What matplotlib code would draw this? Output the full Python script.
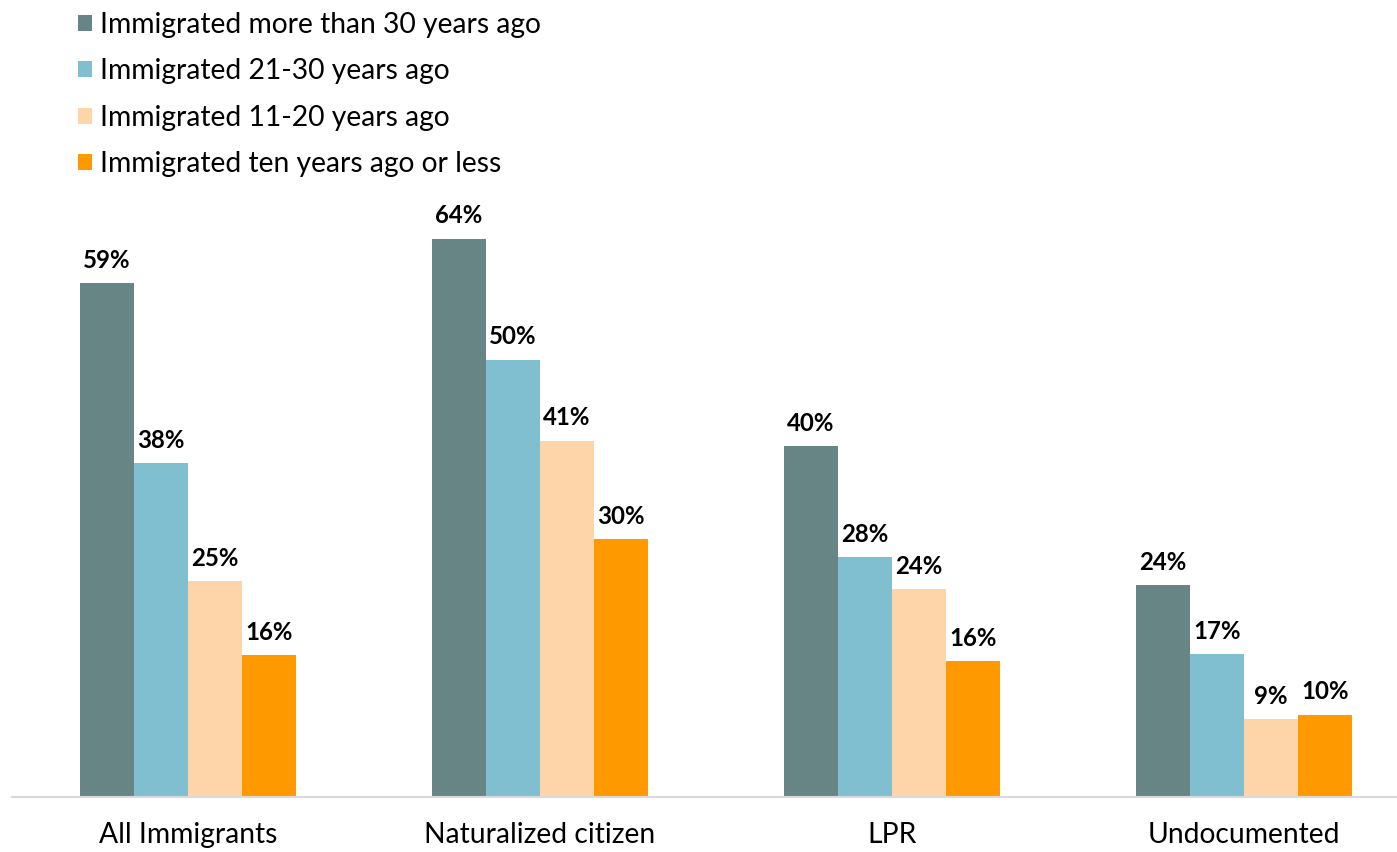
import matplotlib
matplotlib.use("Agg")
import matplotlib.pyplot as plt
from matplotlib.patches import Patch
import numpy as np

categories = ["All Immigrants", "Naturalized citizen", "LPR", "Undocumented"]
series_names = ["Immigrated more than 30 years ago", "Immigrated 21-30 years ago",
                "Immigrated 11-20 years ago", "Immigrated ten years ago or less"]
more_than_30 = [59.0, 64.1, 40.25, 24.3]
yrs_21_30 = [38.3, 50.2, 27.5, 16.4]
yrs_11_20 = [24.75, 40.9, 23.9, 8.9]
ten_or_less = [16.3, 29.6, 15.6, 9.45]
labels_more_than_30 = ["59%", "64%", "40%", "24%"]
labels_21_30 = ["38%", "50%", "28%", "17%"]
labels_11_20 = ["25%", "41%", "24%", "9%"]
labels_ten_or_less = ["16%", "30%", "16%", "10%"]
colors = ["#668584", "#7FBFCF", "#FDD5A9", "#FF9900"]

plt.rcParams['font.family'] = ['Lato', 'DejaVu Sans']

W, H = 1397, 852
fig = plt.figure(figsize=(W/100, H/100), dpi=100)
ax = fig.add_axes([12/W, 55/H, (W-12)/W, 607/H])

series = [more_than_30, yrs_21_30, yrs_11_20, ten_or_less]
series_labels = [labels_more_than_30, labels_21_30, labels_11_20, labels_ten_or_less]
x = np.arange(len(categories))
bw = 54/352
for i, (vals, labs, c) in enumerate(zip(series, series_labels, colors)):
    pos = x + (i - 1.5) * bw
    ax.bar(pos, vals, width=bw, color=c, label=series_names[i])
    for px, v, lab in zip(pos, vals, labs):
        ax.annotate(lab, (px, v), xytext=(0, 11), textcoords="offset points",
                    ha="center", va="baseline", fontsize=17.3, fontweight="bold", color="black")

ax.set_xlim(-0.5, (W-188)/352)
ax.set_ylim(0, 607/8.71)
ax.set_xticks(x)
ax.set_xticklabels(categories, fontsize=20.3)
ax.tick_params(axis='x', length=0, pad=18)
ax.set_yticks([])
for s in ["top", "right", "left"]:
    ax.spines[s].set_visible(False)
ax.spines["bottom"].set_color("#D9D9D9")
ax.spines["bottom"].set_linewidth(1.5)

handles = [Patch(facecolor=c, label=n) for c, n in zip(colors, series_names)]
fig.legend(handles=handles, loc="upper left", bbox_to_anchor=(78/W, 1 - 12/H),
           frameon=False, fontsize=20.3, handlelength=0.5, handleheight=0.5,
           handletextpad=0.28, labelspacing=0.72, borderpad=0, borderaxespad=0)

fig.savefig("out.png", dpi=100)
